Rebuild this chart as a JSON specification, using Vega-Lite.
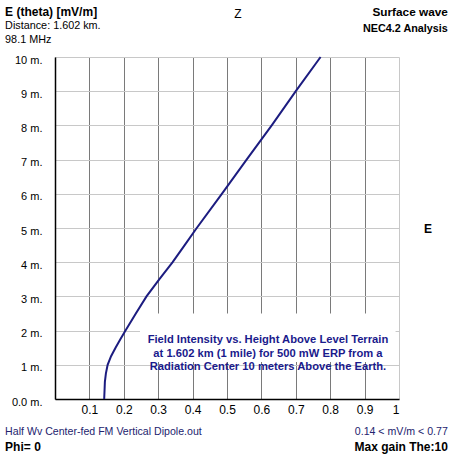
{
  "$schema": "https://vega.github.io/schema/vega-lite/v6.json",
  "width": 344,
  "height": 342,
  "autosize": "none",
  "padding": {"left": 55, "top": 57, "right": 55, "bottom": 55},
  "background": "white",
  "config": {
    "view": {"stroke": null},
    "font": "Liberation Sans",
    "text": {"font": "Liberation Sans"}
  },
  "datasets": {
    "curve": [
      {"height": 0, "field": 0.143},
      {"height": 0.25, "field": 0.144},
      {"height": 0.5, "field": 0.145},
      {"height": 0.75, "field": 0.148},
      {"height": 1, "field": 0.153},
      {"height": 1.25, "field": 0.163},
      {"height": 1.5, "field": 0.176},
      {"height": 1.75, "field": 0.19},
      {"height": 2, "field": 0.205},
      {"height": 2.5, "field": 0.235},
      {"height": 3, "field": 0.266},
      {"height": 3.5, "field": 0.303},
      {"height": 4, "field": 0.342},
      {"height": 4.5, "field": 0.377},
      {"height": 5, "field": 0.412},
      {"height": 6, "field": 0.485},
      {"height": 7, "field": 0.557},
      {"height": 8, "field": 0.63},
      {"height": 9, "field": 0.7},
      {"height": 10, "field": 0.772}
    ],
    "one": [{}]
  },
  "data": {"name": "one"},
  "encoding": {
    "x": {
      "type": "quantitative",
      "scale": {"domain": [0, 1], "nice": false},
      "axis": {
        "title": null,
        "grid": true,
        "values": [0, 0.1, 0.2, 0.3, 0.4, 0.5, 0.6, 0.7, 0.8, 0.9, 1],
        "labelExpr": "datum.value == 0 ? '' : format(datum.value, '~g')",
        "ticks": false,
        "domainColor": "black",
        "domainWidth": 1.5,
        "gridColor": {"condition": {"test": "datum.value == 1", "value": "#c8c8c8"}, "value": "#7a7a7a"},
        "gridOpacity": 1,
        "labelFontSize": 12,
        "labelColor": "black",
        "labelPadding": 5,
        "labelFont": "Liberation Sans"
      }
    },
    "y": {
      "type": "quantitative",
      "scale": {"domain": [0, 10], "nice": false},
      "axis": {
        "title": null,
        "grid": true,
        "values": [0, 1, 2, 3, 4, 5, 6, 7, 8, 9, 10],
        "labelExpr": "datum.value == 0 ? '0.0 m.' : datum.value + ' m.'",
        "ticks": false,
        "domainColor": "black",
        "domainWidth": 1.5,
        "gridColor": "#c8c8c8",
        "gridOpacity": 1,
        "labelFontSize": 11,
        "labelColor": "black",
        "labelPadding": 13,
        "labelOffset": 3,
        "labelFont": "Liberation Sans"
      }
    }
  },
  "layer": [
    {
      "mark": {"type": "rect", "color": "white"},
      "encoding": {
        "x": {"datum": 0.247},
        "x2": {"datum": 0.99},
        "y": {"datum": 2.5},
        "y2": {"datum": 1.08}
      }
    },
    {
      "data": {"name": "curve"},
      "mark": {"type": "line", "color": "#1c1c80", "strokeWidth": 2},
      "encoding": {
        "x": {"field": "field"},
        "y": {"field": "height"},
        "order": {"field": "height"}
      }
    },
    {
      "mark": {"type": "text", "align": "center", "baseline": "middle", "fontWeight": "bold", "fontSize": 11.2, "color": "#1a1a8c", "lineHeight": 13.8},
      "encoding": {
        "x": {"datum": 0.619},
        "y": {"datum": 1.73},
        "text": {"value": ["Field Intensity vs. Height Above Level Terrain", "at 1.602 km (1 mile) for 500 mW ERP from a", "Radiation Center 10 meters Above the Earth."]}
      }
    },
    {
      "mark": {"type": "text", "align": "left", "baseline": "middle", "fontWeight": "bold", "fontSize": 12, "color": "black"},
      "encoding": {"x": {"datum": -0.145}, "y": {"datum": 11.32}, "text": {"value": "E (theta) [mV/m]"}}
    },
    {
      "mark": {"type": "text", "align": "left", "baseline": "middle", "fontSize": 10.8, "color": "black"},
      "encoding": {"x": {"datum": -0.145}, "y": {"datum": 10.9}, "text": {"value": "Distance: 1.602 km."}}
    },
    {
      "mark": {"type": "text", "align": "left", "baseline": "middle", "fontSize": 10.8, "color": "black"},
      "encoding": {"x": {"datum": -0.145}, "y": {"datum": 10.5}, "text": {"value": "98.1 MHz"}}
    },
    {
      "mark": {"type": "text", "align": "center", "baseline": "middle", "fontSize": 12, "color": "black"},
      "encoding": {"x": {"datum": 0.532}, "y": {"datum": 11.26}, "text": {"value": "Z"}}
    },
    {
      "mark": {"type": "text", "align": "right", "baseline": "middle", "fontWeight": "bold", "fontSize": 11.8, "color": "black"},
      "encoding": {"x": {"datum": 1.142}, "y": {"datum": 11.32}, "text": {"value": "Surface wave"}}
    },
    {
      "mark": {"type": "text", "align": "right", "baseline": "middle", "fontWeight": "bold", "fontSize": 10.8, "color": "black"},
      "encoding": {"x": {"datum": 1.142}, "y": {"datum": 10.82}, "text": {"value": "NEC4.2 Analysis"}}
    },
    {
      "mark": {"type": "text", "align": "center", "baseline": "middle", "fontWeight": "bold", "fontSize": 12, "color": "black"},
      "encoding": {"x": {"datum": 1.084}, "y": {"datum": 4.97}, "text": {"value": "E"}}
    },
    {
      "mark": {"type": "text", "align": "left", "baseline": "middle", "fontSize": 10.6, "color": "#23236e"},
      "encoding": {"x": {"datum": -0.145}, "y": {"datum": -0.965}, "text": {"value": "Half Wv Center-fed FM Vertical Dipole.out"}}
    },
    {
      "mark": {"type": "text", "align": "right", "baseline": "middle", "fontSize": 10.6, "color": "#23236e"},
      "encoding": {"x": {"datum": 1.142}, "y": {"datum": -0.965}, "text": {"value": "0.14 < mV/m < 0.77"}}
    },
    {
      "mark": {"type": "text", "align": "left", "baseline": "middle", "fontWeight": "bold", "fontSize": 12, "color": "black"},
      "encoding": {"x": {"datum": -0.145}, "y": {"datum": -1.4}, "text": {"value": "Phi= 0"}}
    },
    {
      "mark": {"type": "text", "align": "right", "baseline": "middle", "fontWeight": "bold", "fontSize": 12, "color": "black"},
      "encoding": {"x": {"datum": 1.142}, "y": {"datum": -1.4}, "text": {"value": "Max gain The:10"}}
    }
  ]
}
